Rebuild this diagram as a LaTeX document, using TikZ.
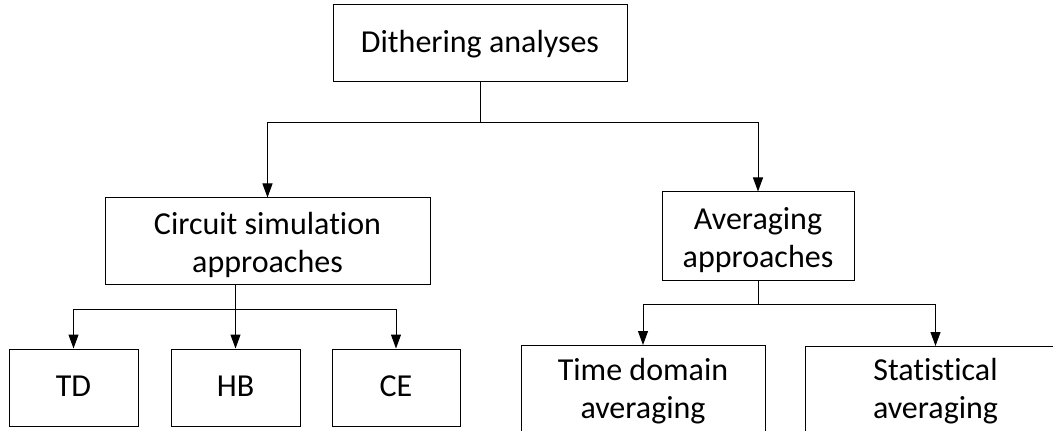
\documentclass[tikz,border=0pt]{standalone}
\usepackage{fontspec}
\setmainfont{Carlito}[Ligatures=NoCommon]
\usetikzlibrary{arrows.meta}
% struts so every line has the same height and depth
\newcommand{\lnstrut}{\rule[-0.22em]{0pt}{1em}}
\newcommand{\firststrut}{\rule[-0.22em]{0pt}{1.2em}}
\begin{document}
\begin{tikzpicture}[x=0.75pt,y=-0.75pt,
  every node/.style={font=\fontsize{24pt}{28.5pt}\selectfont, align=center, inner sep=0pt},
  box/.style={draw, line width=0.75pt},
  lbl/.style={},
  link/.style={line width=0.75pt},
  arr/.style={link, -{Triangle[length=10.5pt, width=7.5pt]}}]
\useasboundingbox (0,0) rectangle (1053,431);
\clip (0,0) rectangle (1053,431);
\fill[white] (0,0) rectangle (1053,431);

% root
\node[box, minimum width=220.5pt, minimum height=57.75pt] (root) at (480,43.5) {\lnstrut Dithering analyses};

% second level
\node[box, minimum width=243.75pt, minimum height=64.5pt] (circ) at (267.5,241)
  {\firststrut Circuit simulation\\\lnstrut approaches};
\node[box, minimum width=144pt, minimum height=66pt] (avg) at (758,236)
  {\firststrut Averaging\\\lnstrut approaches};

% circuit simulation branches
\node[box, minimum width=96.75pt, minimum height=57.75pt] (td) at (73.5,387.5) {\lnstrut TD};
\node[box, minimum width=96.75pt, minimum height=57.75pt] (hb) at (235.5,387.5) {\lnstrut HB};
\node[box, minimum width=96pt, minimum height=57.75pt] (ce) at (396,387.5) {\lnstrut CE};

% averaging branches (boxes run past the lower edge)
\node[box, minimum width=183pt, minimum height=75pt, anchor=north] (tdom) at (643,345) {};
\node[lbl] (tdomtext) at (643,387.2) {\firststrut Time domain\\\lnstrut averaging};
\node[box, minimum width=195pt, minimum height=75pt, anchor=north] (stat) at (935.5,346) {};
\node[lbl] (stattext) at (935.5,387.2) {\firststrut Statistical\\\lnstrut averaging};

% connectors
\coordinate (j1) at (480,123);
\draw[link] (root.south) -- (j1);
\draw[arr] (j1) -| (circ.north);
\draw[arr] (j1) -| (avg.north);

\coordinate (j2) at (235.5,309);
\draw[link] (circ.south -| hb.north) -- (j2);
\draw[arr] (j2) -- (hb.north);
\draw[arr] (j2) -| (td.north);
\draw[arr] (j2) -| (ce.north);

\coordinate (j3) at (758,304.5);
\draw[link] (avg.south) -- (j3);
\draw[arr] (j3) -| (tdom.north);
\draw[arr] (j3) -| (stat.north);
\end{tikzpicture}
\end{document}
